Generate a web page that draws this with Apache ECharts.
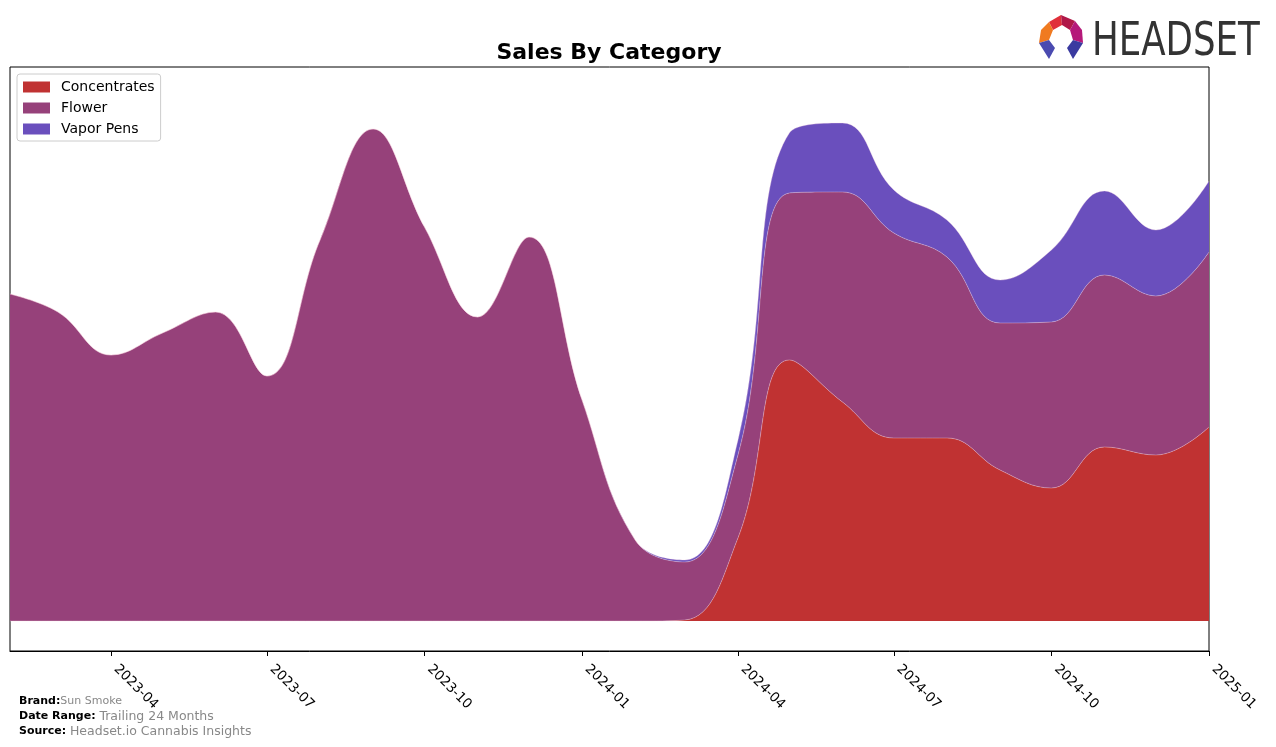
<!DOCTYPE html>
<html>
<head>
<meta charset="utf-8">
<script src="https://cdn.jsdelivr.net/npm/echarts@6/dist/echarts.min.js"></script>
<style>
html,body{margin:0;padding:0;background:#fff;}
#chart{width:1276px;height:747px;}
</style>
</head>
<body>
<div id="chart"></div>
<script>
const months = ['2023-02-01','2023-03-01','2023-04-01','2023-05-01','2023-06-01','2023-07-01','2023-08-01','2023-09-01','2023-10-01','2023-11-01','2023-12-01','2024-01-01','2024-02-01','2024-03-01','2024-04-01','2024-05-01','2024-06-01','2024-07-01','2024-08-01','2024-09-01','2024-10-01','2024-11-01','2024-12-01','2025-01-01'];
const concentrates = [0,0,0,0,0,0,0,0,0,0,0,0,0,1,83,261,219,183,183,151,133,174,166,194];
const flower = [327,309,266,288,309,245,381,492,394,304,384,221,81,58,83,167,210,205,181,147,166,172,159,175];
const vaporPens = [0,0,0,0,0,0,0,0,0,0,0,0,0,2,15,60,69,43,37,43,72,84,66,71];
const tickLabels = ['2023-04','2023-07','2023-10','2024-01','2024-04','2024-07','2024-10','2025-01'];

const ts = s => { const p = s.split('-').map(Number); return Date.UTC(p[0], p[1]-1, p[2] || 1); };
const tickValues = tickLabels.map(t => ts(t + '-01'));
const pad = n => (n < 10 ? '0' : '') + n;
const xMin = ts(months[0]), xMax = ts(months[months.length - 1]);

const chart = echarts.init(document.getElementById('chart'));
const mk = (name, arr, color) => ({
  name, type: 'line', stack: 'total', smooth: 0.42, showSymbol: false, symbol: 'none',
  xAxisIndex: 0,
  data: months.map((m, i) => [ts(m), arr[i]]),
  lineStyle: { width: 0.6, color: 'rgba(255,220,230,0.55)' },
  itemStyle: { color },
  areaStyle: { color, opacity: 1 },
  emphasis: { disabled: true }
});

chart.setOption({
  animation: false,
  title: {
    text: 'Sales By Category', left: 604, textAlign: 'center', top: 37,
    textStyle: { fontFamily: 'DejaVu Sans', fontSize: 22, fontWeight: 'bold', color: '#000' }
  },
  legend: {
    orient: 'vertical', left: 17, top: 74, padding: [5, 6, 4, 6],
    itemWidth: 27, itemHeight: 11, itemGap: 5,
    borderColor: '#ccc', borderWidth: 1, borderRadius: 3,
    textStyle: { fontFamily: 'DejaVu Sans', fontSize: 14, color: '#000', lineHeight: 16, padding: [0, 0, 0, 6] },
    icon: 'rect',
    data: ['Concentrates', 'Flower', 'Vapor Pens']
  },
  grid: { left: 10, right: 67, top: 67, bottom: 96, show: true, borderColor: '#000', borderWidth: 1, containLabel: false },
  xAxis: [{
    type: 'time', min: xMin, max: xMax, position: 'bottom',
    axisLine: { onZero: false, lineStyle: { color: '#000', width: 1 } },
    axisTick: { show: false }, axisLabel: { show: false }, splitLine: { show: false }
  }, {
    type: 'value', min: xMin, max: xMax, position: 'bottom', offset: 0,
    axisLine: { show: false, onZero: false },
    axisTick: { show: true, length: 5, inside: false, customValues: tickValues, lineStyle: { color: '#000' } },
    axisLabel: {
      customValues: tickValues, rotate: -45, margin: 11, padding: [0, 0, 0, 7],
      fontFamily: 'DejaVu Sans', fontSize: 13.5, color: '#000',
      formatter: v => { const d = new Date(v); return d.getUTCFullYear() + '-' + pad(d.getUTCMonth() + 1); }
    },
    splitLine: { show: false }
  }],
  yAxis: {
    type: 'value', min: -30, max: 554,
    axisLine: { show: false }, axisTick: { show: false }, axisLabel: { show: false }, splitLine: { show: false }
  },
  series: [
    mk('Concentrates', concentrates, '#c03232'),
    mk('Flower', flower, '#96417a'),
    mk('Vapor Pens', vaporPens, '#6a4fbd')
  ],
  graphic: [
    { type: 'polygon', shape: { points: [[1049,22],[1061,15],[1062,25],[1053,30]] }, style: { fill: '#e0303a' } },
    { type: 'polygon', shape: { points: [[1061,15],[1075,21],[1070,30],[1062,25]] }, style: { fill: '#b01848' } },
    { type: 'polygon', shape: { points: [[1075,21],[1082,30],[1083,43],[1073,40],[1070,30]] }, style: { fill: '#b5197a' } },
    { type: 'polygon', shape: { points: [[1049,22],[1053,30],[1049,40],[1039,43],[1041,30]] }, style: { fill: '#f07a20' } },
    { type: 'polygon', shape: { points: [[1039,43],[1049,40],[1055,48],[1049,59]] }, style: { fill: '#4a4ab0' } },
    { type: 'polygon', shape: { points: [[1083,43],[1073,40],[1067,48],[1073,59]] }, style: { fill: '#3a3aa0' } },
    { type: 'text', x: 1092, y: 20, scaleX: 0.86, scaleY: 1, style: { text: 'HEADSET', font: '46px "Liberation Sans Narrow", "DejaVu Sans Condensed", sans-serif', fill: '#333' } },
    { type: 'text', left: 19, top: 696, style: { text: '{b|Brand:}{g|Sun Smoke}', rich: { b: { font: 'bold 11px "DejaVu Sans"', fill: '#000' }, g: { font: '11px "DejaVu Sans"', fill: '#888' } } } },
    { type: 'text', left: 19, top: 710, style: { text: '{b|Date Range: }{g|Trailing 24 Months}', rich: { b: { font: 'bold 11px "DejaVu Sans"', fill: '#000' }, g: { font: '12.5px "DejaVu Sans"', fill: '#888' } } } },
    { type: 'text', left: 19, top: 725, style: { text: '{b|Source: }{g|Headset.io Cannabis Insights}', rich: { b: { font: 'bold 11px "DejaVu Sans"', fill: '#000' }, g: { font: '12.5px "DejaVu Sans"', fill: '#888' } } } }
  ]
});
</script>
</body>
</html>
